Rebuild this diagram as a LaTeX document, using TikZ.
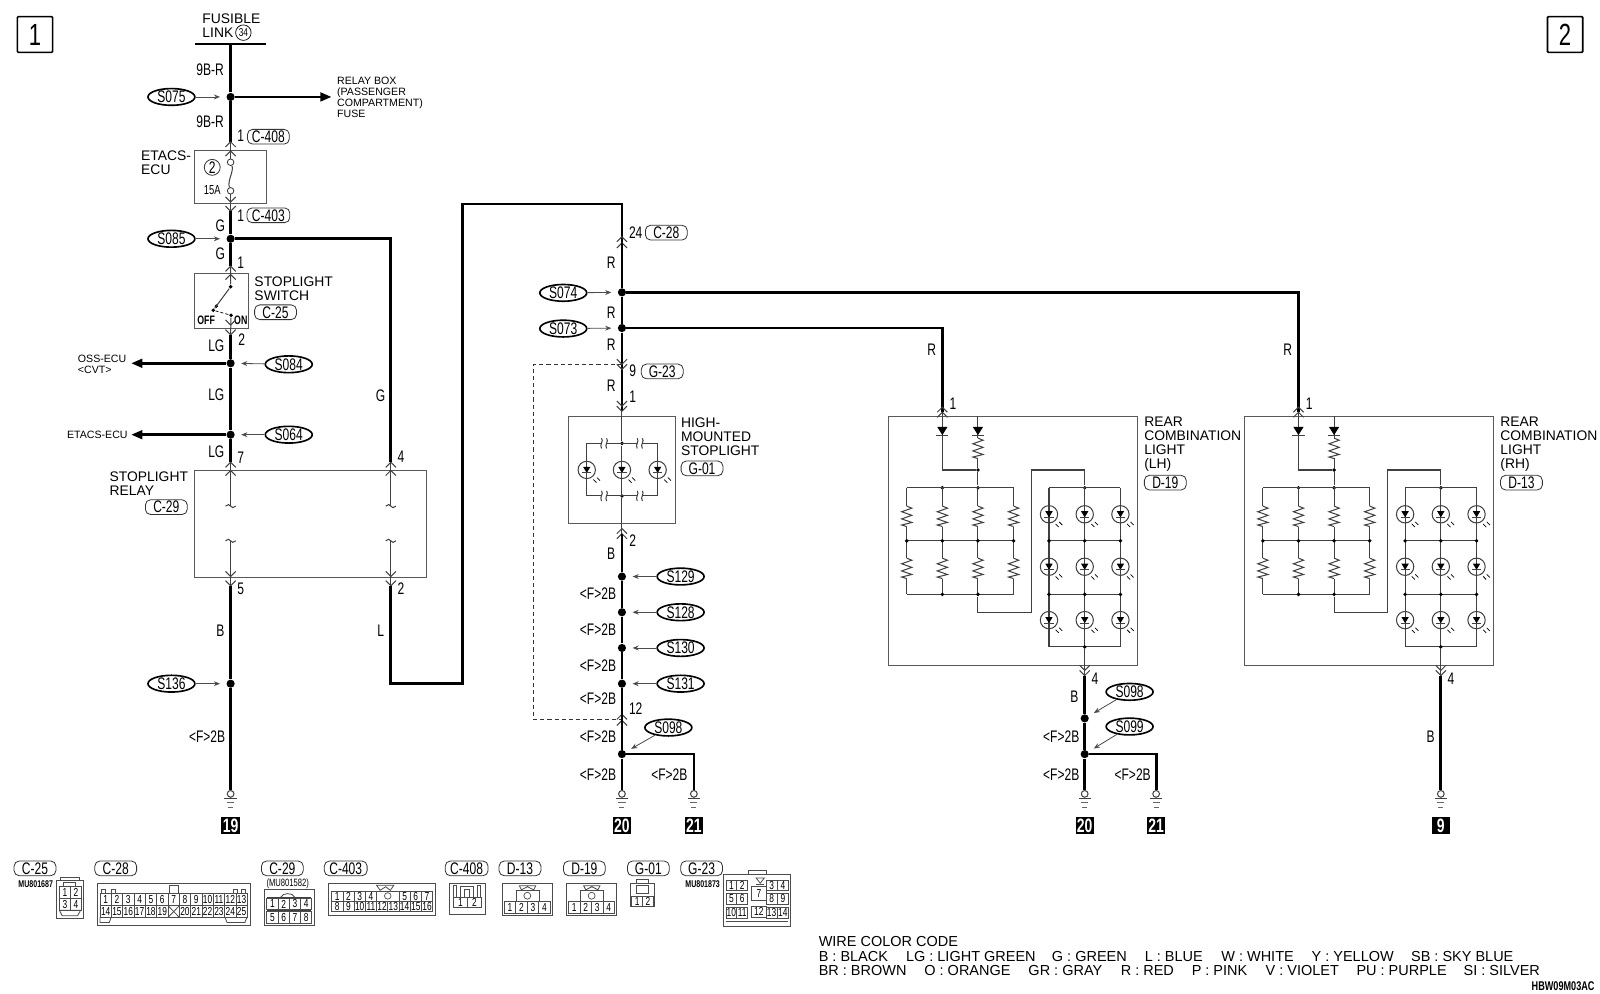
\documentclass[tikz,border=0pt]{standalone}
\usepackage{fontspec}
\setmainfont{Liberation Sans}
\newfontfamily\narrowfont[FakeStretch=0.72]{Liberation Sans}
\usetikzlibrary{arrows.meta,shapes.geometric}

\tikzset{
  wire/.style={line width=1.35pt,black},
  thinwire/.style={line width=.5pt,black!75},
  boxline/.style={line width=.5pt,black!65},
  conn/.style={line width=.4pt,black!70},
  leader/.style={line width=.4pt,black!70,-{Stealth[length=3pt,width=2.4pt]},shorten >=3pt},
  bigdot/.style={circle,fill=black,inner sep=0,minimum size=4pt},
  dot/.style={circle,fill=black,inner sep=0,minimum size=1.9pt},
  lab/.style={font=\fontsize{6.8}{6.9}\selectfont,align=left,anchor=west,inner sep=0},
  smalllab/.style={font=\fontsize{5.2}{5.4}\selectfont,align=left,anchor=west,inner sep=0},
  wlab/.style={font=\narrowfont\fontsize{8.2}{8.2}\selectfont,inner sep=0},
  tag/.style={wlab,draw=black!80,line width=.4pt,rounded corners=2.5pt,minimum width=20.5pt,minimum height=7.2pt},
  oval/.style={wlab,ellipse,draw,line width=.8pt,fill=white,minimum width=23pt,minimum height=8.2pt},
  term/.style={font=\narrowfont\bfseries\fontsize{9.5}{9.5}\selectfont,text=white,fill=black,inner sep=0,minimum width=9pt,minimum height=8.5pt},
  pagebox/.style={draw,line width=.8pt,rounded corners=.5pt,font=\narrowfont\fontsize{15}{15}\selectfont,inner sep=0,minimum width=17.3pt,minimum height=17.5pt},
  pinbox/.style={draw=black!70,line width=.35pt,font=\narrowfont\fontsize{5.7}{5.7}\selectfont,inner sep=0},
  caretup/.pic={\draw[thinwire] (-5,5) -- (0,0) -- (5,5);},
  caretdn/.pic={\draw[thinwire] (-5,-5) -- (0,0) -- (5,-5);},
  wirebrk/.pic={\draw[thinwire] (-5,0) .. controls (-3,-2) and (-1,-2) .. (0,0) .. controls (1,2) and (3,2) .. (5,0);},
  railbrk/.pic={\fill[white] (-2.5,-1) rectangle (2.5,1);
    \draw[thinwire] (-2.5,-5) .. controls (0,-2) and (-5,1) .. (-2.5,5);
    \draw[thinwire] (2.5,-5) .. controls (5,-2) and (0,1) .. (2.5,5);},
  ground/.pic={\draw[thinwire] (0,0) circle (3.3);
    \draw[thinwire] (-6,4.5) -- (6,4.5);
    \draw[line width=.35pt,black!60] (-3.5,8.5) -- (3.5,8.5);
    \draw[line width=.35pt,black!60] (-2.5,13) -- (2.5,13);},
  diode/.pic={\fill (-5,-4) -- (5,-4) -- (0,4) -- cycle;
    \draw[thinwire] (-6,4) -- (6,4);},
  lamp/.pic={\draw[thinwire] (0,0) circle (8.5);
    \fill (-3.6,-3) -- (3.6,-3) -- (0,3) -- cycle;
    \draw[thinwire] (-4.5,3) -- (4.5,3);
    \draw[line width=.35pt] (6.5,9.5) -- (9.5,12.5);
    \draw[line width=.35pt] (10,7.5) -- (13,10.5);},
  resist/.pic={\draw[thinwire] (0,-10) -- (5,-8) -- (-5,-4.5) -- (5,-1) -- (-5,2.5) -- (5,6) -- (-5,8.5) -- (0,10);},
}

\newcommand{\pinrow}[6]{%
  \foreach \lab [count=\k from 0] in {#6}
    \node[pinbox,minimum width=#4*.5pt,minimum height=#5*.5pt] (#1\lab) at ({#2+(\k+.5)*#4},{#3+.5*#5}) {\lab};
}

\begin{document}
\begin{tikzpicture}[x=.5pt,y=-.5pt]
\useasboundingbox (0,0) rectangle (1568,974.1);

\node[pagebox] (page1) at (34.3,33.8) {1};
\node[pagebox] (page2) at (1533.8,33.8) {2};

% left column
\coordinate (fusbarl) at (191,43);
\coordinate (fusbarr) at (261,43);
\coordinate (fuswire) at (226,43);
\draw[line width=.7pt] (fusbarl) -- (fusbarr);
\node[lab] (fusible) at (198,25) {FUSIBLE\\LINK};
\node[circle,draw,line width=.35pt,inner sep=0,minimum size=7.6pt,font=\narrowfont\fontsize{5.6}{5.6}\selectfont] (fus34) at (238.5,32) {34};

\node[bigdot] (s075j) at (226,95) {};
\node[oval] (s075) at (168,95) {S075};
\coordinate (relaytip) at (325,95);
\node[smalllab] (relaybox) at (330,95) {RELAY BOX\\(PASSENGER\\COMPARTMENT)\\FUSE};
\coordinate (c408a) at (226,139);
\draw[wire] (fuswire) -- (s075j) -- (c408a);
\draw[wire,-{Triangle[length=5.5pt,width=4.2pt]}] (s075j) -- (relaytip);
\draw[leader] (s075) -- (s075j);
\node[wlab] (lab9br1) at (206,68) {9B-R};
\node[wlab] (lab9br2) at (206,119) {9B-R};
\node[wlab] (pin1a) at (236,133) {1};
\node[tag] (c408) at (263,134) {C-408};
\pic at (226,139) {caretup};
\pic at (226,148) {caretup};

\node[draw=black!65,line width=.5pt,inner sep=0,minimum width=35pt,minimum height=26pt] (etacs) at (226,173.5) {};
\node[lab] (etacslab) at (138,159.5) {ETACS-\\ECU};
\node[circle,draw=black!80,line width=.4pt,inner sep=0,minimum size=7.8pt,wlab] (fuse2) at (208,164) {2};
\node[wlab,font=\narrowfont\fontsize{6.4}{6.4}\selectfont] (fuse15) at (208,186) {15A};
\node[circle,draw=black!80,line width=.4pt,inner sep=0,minimum size=3.2pt] (fusea) at (226,159) {};
\node[circle,draw=black!80,line width=.4pt,inner sep=0,minimum size=3.2pt] (fuseb) at (226,187) {};
\coordinate (etacstop) at (226,139);
\coordinate (etacsbot) at (226,207);
\draw[thinwire] (etacstop) -- (fusea);
\draw[thinwire] (fusea) .. controls (229.5,168) and (222.5,177) .. (fuseb);
\draw[thinwire] (fuseb) -- (etacsbot);
\pic at (226,198) {caretdn};
\pic at (226,207) {caretdn};

\node[wlab] (pin1b) at (236,211) {1};
\node[tag,minimum width=21pt] (c403) at (263,211) {C-403};
\node[wlab] (labg1) at (216,221) {G};
\node[bigdot] (s085j) at (226,234) {};
\node[oval] (s085) at (168,234) {S085};
\draw[leader] (s085) -- (s085j);
\node[wlab] (labg2) at (216,249) {G};
\node[wlab] (pin1c) at (236,257) {1};
\coordinate (sw1a) at (226,261);
\draw[wire] (etacsbot) -- (s085j) -- (sw1a);
\pic at (226,261) {caretup};
\pic at (226,269) {caretup};

\node[draw=black!65,line width=.5pt,inner sep=0,minimum width=26.5pt,minimum height=27pt] (swbox) at (217.5,295) {};
\node[dot] (swtop) at (226,281) {};
\node[dot] (swoff) at (209,304) {};
\node[dot] (swon) at (226.4,309) {};
\node[dot] (swmid) at (212,300) {};
\draw[thinwire] (sw1a) -- (swtop) -- (swoff);
\draw[line width=.35pt,dashed,dash pattern=on 1.5pt off 1pt] (swoff) -- (swon);
\coordinate (swbot) at (226,328);
\draw[thinwire] (swon) -- (swbot);
\node[wlab,font=\narrowfont\bfseries\fontsize{6}{6}\selectfont] (swofflab) at (202,314) {OFF};
\node[wlab,font=\narrowfont\bfseries\fontsize{6}{6}\selectfont] (swonlab) at (236,314) {ON};
\node[lab] (swlab) at (249,283) {STOPLIGHT\\SWITCH};
\node[tag] (c25) at (270,306) {C-25};
\pic at (226,318.5) {caretdn};
\pic at (226,328) {caretdn};
\node[wlab] (pin2a) at (237,333) {2};

\node[wlab] (lablg1) at (212,339) {LG};
\node[bigdot] (s084j) at (226,356) {};
\node[oval] (s084) at (283,357) {S084};
\draw[leader] (s084) -- (s084j);
\coordinate (osstip) at (128.5,356);
\draw[wire,-{Triangle[length=5.5pt,width=4.2pt]}] (s084j) -- (osstip);
\node[smalllab] (osslab) at (76,357.5) {OSS-ECU\\<CVT>};
\node[wlab] (lablg2) at (212,387) {LG};
\node[bigdot] (s064j) at (226,426) {};
\node[oval] (s064) at (283,426) {S064};
\draw[leader] (s064) -- (s064j);
\coordinate (etacstip) at (128.5,426);
\draw[wire,-{Triangle[length=5.5pt,width=4.2pt]}] (s064j) -- (etacstip);
\node[smalllab] (etacslab2) at (65.3,426) {ETACS-ECU};
\node[wlab] (lablg3) at (212,443) {LG};
\node[wlab] (pin7) at (236,449) {7};
\coordinate (rel7) at (226,452.5);
\draw[wire] (swbot) -- (s084j) -- (s064j) -- (rel7);

\node[draw=black!65,line width=.5pt,inner sep=0,minimum width=113.5pt,minimum height=52.5pt] (relay) at (304.5,513.5) {};
\node[lab] (relaylab) at (107,474) {STOPLIGHT\\RELAY};
\node[tag] (c29) at (163,497) {C-29};
\coordinate (rel7b) at (226,496);
\coordinate (rel5t) at (226,530);
\coordinate (rel5) at (226,574);
\coordinate (rel4) at (383,452.5);
\coordinate (rel4b) at (383,496);
\coordinate (rel2t) at (383,530);
\coordinate (rel2) at (383,574);
\draw[thinwire] (rel7) -- (rel7b);
\draw[thinwire] (rel5t) -- (rel5);
\draw[thinwire] (rel4) -- (rel4b);
\draw[thinwire] (rel2t) -- (rel2);
\pic at (226,496) {wirebrk};
\pic at (226,530) {wirebrk};
\pic at (383,496) {wirebrk};
\pic at (383,530) {wirebrk};
\pic at (226,453) {caretup};
\pic at (226,461) {caretup};
\pic at (383,453) {caretup};
\pic at (383,461) {caretup};
\pic at (226,565) {caretdn};
\pic at (226,574) {caretdn};
\pic at (383,565) {caretdn};
\pic at (383,574) {caretdn};
\node[wlab] (pin4a) at (393,448) {4};
\node[wlab] (pin5) at (236,577) {5};
\node[wlab] (pin2b) at (393,577) {2};

\node[wlab] (labb1) at (216,618) {B};
\node[bigdot] (s136j) at (226,670) {};
\node[oval] (s136) at (168,670) {S136};
\draw[leader] (s136) -- (s136j);
\node[wlab] (labf1) at (203,722) {<F>2B};
\coordinate (gnd19) at (226,774.5);
\draw[wire] (rel5) -- (s136j) -- (gnd19);
\pic at (226,778) {ground};
\node[term] (t19) at (226,809) {19};

\coordinate (gbend) at (383,234);
\draw[wire] (s085j) -- (gbend) -- (rel4);
\node[wlab] (labg3) at (373,388) {G};
\node[wlab] (labl) at (373,618) {L};
\coordinate (lbend1) at (383,670);
\coordinate (lbend2) at (453,670);
\coordinate (lbend3) at (453,200);
\coordinate (lbend4) at (609.5,200);
\coordinate (c28a) at (609.5,238);
\draw[wire] (rel2) -- (lbend1) -- (lbend2) -- (lbend3) -- (lbend4) -- (c28a);

% middle column
\pic at (609.5,232) {caretup};
\pic at (609.5,238) {caretup};
\node[wlab] (pin24) at (623,228) {24};
\node[tag] (c28) at (653,228) {C-28};
\node[wlab] (labr1) at (599,257) {R};
\node[bigdot] (s074j) at (609.5,286.5) {};
\node[oval] (s074) at (552,287) {S074};
\draw[leader] (s074) -- (s074j);
\node[wlab] (labr2) at (599,306) {R};
\node[bigdot] (s073j) at (609.5,321.5) {};
\node[oval] (s073) at (552,322) {S073};
\draw[leader] (s073) -- (s073j);
\node[wlab] (labr3) at (599,338) {R};
\node[wlab] (pin9) at (620,363) {9};
\node[tag] (g23) at (649,364) {G-23};
\node[wlab] (labr4) at (599,378) {R};
\node[wlab] (pin1d) at (620,389) {1};
\coordinate (g01top) at (609.5,403);
\draw[wire] (c28a) -- (s074j) -- (s073j) -- (g01top);
\pic at (609.5,357) {caretdn};
\pic at (609.5,362) {caretdn};
\pic at (609.5,398) {caretdn};
\pic at (609.5,403) {caretdn};

\coordinate (dashtop) at (609.5,357);
\coordinate (dashtl) at (523,357);
\coordinate (dashbl) at (523,705);
\coordinate (dashbot) at (609.5,705);
\draw[line width=.35pt,black!80,dashed,dash pattern=on 2pt off 1.5pt] (dashtop) -- (dashtl) -- (dashbl) -- (dashbot);

\node[draw=black!65,line width=.5pt,inner sep=0,minimum width=52.5pt,minimum height=52.5pt] (g01box) at (609.5,460.5) {};
\node[lab] (g01lab) at (667,428) {HIGH-\\MOUNTED\\STOPLIGHT};
\node[tag] (g01) at (688,459) {G-01};
\node[dot] (g01a) at (609.5,434.5) {};
\node[dot] (g01b) at (609.5,486) {};
\coordinate (g01bot) at (609.5,523);
\draw[thinwire] (g01top) -- (g01a) -- (g01b) -- (g01bot);
\draw[thinwire] (575,434.5) rectangle (644.5,486);
\foreach \xx in {575,609.5,644.5}
  \pic at (\xx,460.5) {lamp};
\foreach \xx in {592,627} {
  \pic at (\xx,434.5) {railbrk};
  \pic at (\xx,486) {railbrk};
}
\pic at (609.5,518) {caretup};
\pic at (609.5,523) {caretup};
\node[wlab] (pin2c) at (620,530) {2};
\node[wlab] (labb2) at (599,543) {B};

\node[bigdot] (s129j) at (609.5,565) {};
\node[oval] (s129) at (667,565) {S129};
\draw[leader] (s129) -- (s129j);
\node[wlab] (labf2) at (586,582) {<F>2B};
\node[bigdot] (s128j) at (609.5,600) {};
\node[oval] (s128) at (667,600) {S128};
\draw[leader] (s128) -- (s128j);
\node[wlab] (labf3) at (586,617) {<F>2B};
\node[bigdot] (s130j) at (609.5,635) {};
\node[oval] (s130) at (667,635) {S130};
\draw[leader] (s130) -- (s130j);
\node[wlab] (labf4) at (586,652) {<F>2B};
\node[bigdot] (s131j) at (609.5,670) {};
\node[oval] (s131) at (667,670) {S131};
\draw[leader] (s131) -- (s131j);
\node[wlab] (labf5) at (586,685) {<F>2B};
\node[wlab] (pin12) at (623,694) {12};
\pic at (609.5,700) {caretup};
\pic at (609.5,706) {caretup};
\node[wlab] (labf6) at (586,722) {<F>2B};
\node[bigdot] (s098j) at (609.5,739) {};
\node[oval] (s098) at (655,713) {S098};
\draw[leader] (s098) -- (s098j);
\coordinate (gnd20) at (609.5,774.5);
\coordinate (bend21) at (680,739);
\coordinate (gnd21) at (680,774.5);
\draw[wire] (g01bot) -- (s129j) -- (s128j) -- (s130j) -- (s131j) -- (s098j) -- (gnd20);
\draw[wire] (s098j) -- (bend21) -- (gnd21);
\pic at (609.5,778) {ground};
\pic at (680,778) {ground};
\node[wlab] (labf7) at (586,759) {<F>2B};
\node[wlab] (labf8) at (656,759) {<F>2B};
\node[term] (t20a) at (609.5,809) {20};
\node[term] (t21a) at (680,809) {21};

% rear lights
\coordinate (lhtop) at (923.5,404);
\coordinate (lhbend) at (923.5,321.5);
\coordinate (rhtop) at (1272.5,404);
\coordinate (rhbend) at (1272.5,286.5);
\draw[wire] (s073j) -- (lhbend) -- (lhtop);
\draw[wire] (s074j) -- (rhbend) -- (rhtop);
\node[wlab] (labr5) at (913,343) {R};
\node[wlab] (labr6) at (1262,343) {R};

\foreach \ox/\sd in {0/lh,349/rh} {
\begin{scope}[shift={(\ox,0)}]
  \node[draw=black!65,line width=.5pt,inner sep=0,minimum width=122pt,minimum height=122pt] (\sd box) at (993,530) {};
  \node[wlab] (\sd pin1) at (934,396) {1};
  \pic at (923.5,399) {caretup};
  \pic at (923.5,404) {caretup};
  \node[dot] (\sd ja) at (958.4,460.6) {};
  \node[dot] (\sd jb) at (958.4,478) {};
  \node[dot] (\sd jc) at (923.5,478) {};
  \draw[thinwire] (923.5,404) -- (923.5,460.6) -- (\sd ja);
  \draw[thinwire] (958.4,408) -- (958.4,429);
  \draw[thinwire] (958.4,449) -- (\sd ja) -- (\sd jb);
  \pic at (923.5,422.4) {diode};
  \pic at (958.4,422.4) {diode};
  \pic at (958.4,439.4) {resist};
  \draw[thinwire] (888.6,478) -- (993.3,478);
  \draw[thinwire] (888.6,530) -- (993.3,530);
  \draw[thinwire] (888.6,582.5) -- (993.3,582.5);
  \foreach \xx in {888.6,923.5,958.4,993.3} {
    \draw[thinwire] (\xx,478) -- (\xx,496);
    \draw[thinwire] (\xx,516) -- (\xx,547);
    \draw[thinwire] (\xx,567) -- (\xx,582.5);
    \pic at (\xx,506) {resist};
    \pic at (\xx,557) {resist};
    \node[dot] at (\xx,530) {};
  }
  \node[dot] (\sd jd) at (923.5,582.5) {};
  \node[dot] (\sd je) at (958.4,582.5) {};
  \node[dot] (\sd jf) at (1063,478) {};
  \draw[thinwire] (\sd je) -- (958.4,600) -- (1010.4,600) -- (1010.4,460.6) -- (1063,460.6) -- (\sd jf);
  \draw[thinwire] (1028,478) -- (1098,478);
  \draw[thinwire] (1028,530) -- (1098,530);
  \draw[thinwire] (1028,582.5) -- (1098,582.5);
  \draw[thinwire] (1028,634) -- (1098,634);
  \foreach \xx in {1028,1063,1098} {
    \draw[thinwire] (\xx,478) -- (\xx,634);
    \pic at (\xx,504) {lamp};
    \pic at (\xx,555.4) {lamp};
    \pic at (\xx,607.7) {lamp};
    \node[dot] at (\xx,530) {};
    \node[dot] at (\xx,582.5) {};
  }
  \node[dot] (\sd jg) at (1063,634) {};
  \coordinate (\sd out) at (1063,662);
  \draw[thinwire] (\sd jg) -- (\sd out);
  \pic at (1063,657) {caretdn};
  \pic at (1063,662) {caretdn};
  \node[wlab] (\sd pin4) at (1073,665) {4};
  \node[lab] (\sd lab) at (1121,435) {REAR\\COMBINATION\\LIGHT\\(\ifnum\ox=0 LH\else RH\fi)};
\end{scope}
}
\node[tag] (d19) at (1142,473) {D-19};
\node[tag] (d13) at (1491,473) {D-13};

\node[wlab] (labb3) at (1053,683) {B};
\node[bigdot] (s098k) at (1063,704) {};
\node[oval] (s098b) at (1107,678) {S098};
\draw[leader] (s098b) -- (s098k);
\node[wlab] (labf9) at (1040,722) {<F>2B};
\node[bigdot] (s099k) at (1063,739) {};
\node[oval] (s099) at (1107,712) {S099};
\draw[leader] (s099) -- (s099k);
\coordinate (gnd20b) at (1063,774.5);
\coordinate (bend21b) at (1133,739);
\coordinate (gnd21b) at (1133,774.5);
\draw[wire] (lhout) -- (s098k) -- (s099k) -- (gnd20b);
\draw[wire] (s099k) -- (bend21b) -- (gnd21b);
\pic at (1063,778) {ground};
\pic at (1133,778) {ground};
\node[wlab] (labf10) at (1040,759) {<F>2B};
\node[wlab] (labf11) at (1110,759) {<F>2B};
\node[term] (t20b) at (1063,809) {20};
\node[term] (t21b) at (1133,809) {21};

\coordinate (gnd9) at (1412,774.5);
\draw[wire] (rhout) -- (gnd9);
\node[wlab] (labb4) at (1402,722) {B};
\pic at (1412,778) {ground};
\node[term] (t9) at (1412,809) {9};

% connectors
\node[tag] (k25) at (34.3,851) {C-25};
\node[wlab,font=\narrowfont\bfseries\fontsize{4.8}{4.8}\selectfont] (k25no) at (35,866.3) {MU801687};
\draw[conn] (55.5,862.4) rectangle (81.7,899.6);
\draw[conn] (59,860) rectangle (78,862.4);
\draw[conn] (62.5,864.5) rectangle (73.5,868.3);
\draw[conn] (58.2,892) -- (79,892) -- (76,897.5) -- (61,897.5) -- cycle;
\pinrow{a}{58.2}{868.3}{10.8}{12}{1,2}
\pinrow{a}{58.2}{880.3}{10.8}{12}{3,4}

\node[tag] (k28) at (113.4,851) {C-28};
\draw[conn] (95.4,865.7) rectangle (245.7,906.5);
\foreach \xx in {99.5,109.5,229,237}
  \draw[conn] (\xx,871.5) rectangle ++(3.4,4);
\draw[conn] (166.5,867.5) rectangle ++(8.2,8);
\draw[conn] (98,899) -- (98,904) -- (107,904) -- (109,899);
\draw[conn] (220.5,899) -- (222.5,904) -- (240,904) -- (242,899);
\pinrow{b}{98}{875.5}{11.1}{12.2}{1,2,3,4,5,6,7,8,9,10,11,12,13}
\pinrow{b}{98}{887.7}{11.1}{11.3}{14,15,16,17,18,19}
\node[pinbox,minimum width=5.55pt,minimum height=5.65pt] (bx) at (170.2,893.3) {};
\draw[conn] (bx.north west) -- (bx.south east);
\draw[conn] (bx.north east) -- (bx.south west);
\pinrow{c}{175.7}{887.7}{11.1}{11.3}{20,21,22,23,24,25}

\node[tag] (k29) at (276.7,851) {C-29};
\node[wlab,font=\narrowfont\fontsize{5.2}{5.2}\selectfont] (k29no) at (282,865.7) {(MU801582)};
\draw[conn] (259,871.6) rectangle (308,906.5);
\draw[conn] (275,879.4) .. controls (277,874.5) and (287,874.5) .. (289,879.4);
\draw[line width=.7pt,black!75] (262,879.4) -- (305,879.4);
\draw[line width=.7pt,black!75] (262,892) -- (305,892);
\pinrow{d}{261.5}{880.5}{11}{10.7}{1,2,3,4}
\pinrow{d}{261.5}{893}{11}{11.5}{5,6,7,8}

\node[tag,minimum width=21pt] (k403) at (338.8,851) {C-403};
\draw[conn] (321.8,865.7) rectangle (426.3,896.7);
\draw[conn] (372.5,872.5) -- (369,867.5) -- (386,867.5) -- (382.5,872.5) -- (378,869) -- cycle;
\pinrow{e}{325}{873.2}{11}{10.4}{1,2,3,4}
\node[pinbox,minimum width=11pt,minimum height=5.2pt] (egap) at (380,878.4) {};
\node[circle,draw=black!70,line width=.35pt,inner sep=0,minimum size=3.2pt] (ehole) at (380,878) {};
\pinrow{f}{391}{873.2}{11}{10.4}{5,6,7}
\pinrow{g}{325}{883.6}{11}{10}{8,9,10,11,12,13,14,15,16}

\node[tag,minimum width=21pt] (k408) at (457.3,851) {C-408};
\draw[conn] (440.4,865.7) rectangle (475.3,896);
\draw[conn] (444,879) -- (444,868) -- (447,868) -- (447,879);
\draw[conn] (468,879) -- (468,868) -- (471,868) -- (471,879);
\draw[conn] (451,879) -- (451,869) -- (464,869) -- (464,879);
\draw[conn] (455,879) -- (455,872) -- (460,872) -- (460,879);
\pinrow{h}{444.3}{879}{13.7}{10.5}{1,2}

\node[tag] (k13) at (509.6,851) {D-13};
\draw[conn] (492.3,865.7) rectangle (541.3,896.7);
\draw[conn] (505.7,883.6) rectangle (528.2,872.2);
\draw[conn] (511,872) -- (509,868) -- (525,868) -- (523,872) -- (517,869) -- cycle;
\node[circle,draw=black!70,line width=.35pt,inner sep=0,minimum size=3.4pt] (k13hole) at (516.8,877.8) {};
\pinrow{k}{494}{883.6}{11.3}{11.5}{1,2,3,4}

\node[tag] (k19) at (572.7,851) {D-19};
\draw[conn] (555.3,865.7) rectangle (604.3,896.7);
\draw[conn] (568.7,883.6) rectangle (591.2,872.2);
\draw[conn] (574,872) -- (572,868) -- (588,868) -- (586,872) -- (580,869) -- cycle;
\node[circle,draw=black!70,line width=.35pt,inner sep=0,minimum size=3.4pt] (k19hole) at (579.8,877.8) {};
\pinrow{m}{557}{883.6}{11.3}{11.5}{1,2,3,4}

\node[tag] (k01) at (635.4,851) {G-01};
\draw[conn] (618,865.7) rectangle (641,888.5);
\draw[conn] (624,861.7) rectangle (635.4,865.7);
\draw[conn] (624,867.3) rectangle (635.4,875.5);
\pinrow{n}{619}{878}{10.7}{10}{1,2}

\node[tag] (k23) at (687.6,851) {G-23};
\node[wlab,font=\narrowfont\bfseries\fontsize{4.8}{4.8}\selectfont] (k23no) at (688.6,866.3) {MU801873};
\draw[conn] (708.9,856.9) rectangle (774.2,908.1);
\draw[conn] (733.5,852.8) rectangle (751,856.9);
\draw[conn] (711,903) -- (772,903);
\draw[conn] (741,860.5) -- (749,860.5) -- (745,865.5) -- cycle;
\draw[conn] (741,867) -- (749,867);
\pinrow{p}{711.5}{862.4}{10.5}{9.8}{1,2}
\pinrow{p}{711.5}{875.5}{10.5}{10.4}{5,6}
\pinrow{p}{711.5}{889.2}{10.5}{10.8}{10,11}
\pinrow{q}{736.7}{868.9}{14}{13.1}{7}
\pinrow{q}{736.7}{887.9}{14}{11.1}{12}
\pinrow{q}{750.7}{862.4}{11}{9.8}{3,4}
\pinrow{q}{750.7}{875.5}{11}{10.4}{8,9}
\pinrow{q}{750.7}{889.2}{11}{10.8}{13,14}

% wire colour code
\tikzset{codelab/.style={font=\fontsize{7.1}{7.1}\selectfont,anchor=west,inner sep=0}}
\node[codelab] (codehead) at (802,923) {WIRE COLOR CODE};
\foreach \xx/\txt [count=\k] in {802/B : BLACK,887.5/LG : LIGHT GREEN,1030.5/G : GREEN,1121.5/L : BLUE,1196.5/W : WHITE,1285/Y : YELLOW,1382.5/SB : SKY BLUE}
  \node[codelab] (code\k) at (\xx,937) {\txt};
\foreach \xx/\txt [count=\k] in {802/BR : BROWN,905.5/O : ORANGE,1007.5/GR : GRAY,1098/R : RED,1167.5/P : PINK,1240/V : VIOLET,1329/PU : PURPLE,1434/SI : SILVER}
  \node[codelab] (codeb\k) at (\xx,951) {\txt};
\node[wlab,font=\narrowfont\bfseries\fontsize{6.2}{6.2}\selectfont,anchor=east] (drawno) at (1563,966) {HBW09M03AC};

\end{tikzpicture}
\end{document}
